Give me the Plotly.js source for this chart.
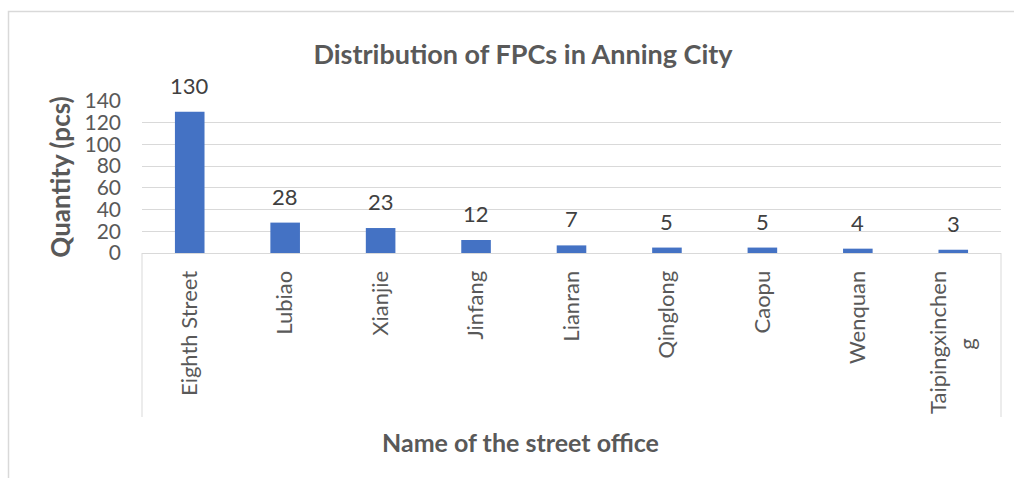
<!DOCTYPE html>
<html>
<head>
<meta charset="utf-8">
<script src="https://cdn.plot.ly/plotly-3.0.1.min.js"></script>
<style>
html,body{margin:0;padding:0;background:#fff;}
#chart{width:1014px;height:478px;}
</style>
</head>
<body>
<div id="chart"></div>
<script>
const NB = "\u00a0";
const categories = ["Eighth Street","Lubiao","Xianjie","Jinfang","Lianran","Qinglong","Caopu","Wenquan","Taipingxinchen<br>g" + NB.repeat(12)];
const counts = [130, 28, 23, 12, 7, 5, 5, 4, 3];
const yTicks = [0, 20, 40, 60, 80, 100, 120, 140];

const FONT = "Lato, 'Open Sans', sans-serif";
const GREY = "#595959";

const trace = {
  type: "bar",
  x: categories,
  y: counts,
  marker: {color: "#4472C4"},
  hoverinfo: "x+y"
};

const W = 1014, H = 478;
const L = 142, R = 13, T = 101, B = 225;
const pw = W - L - R, ph = H - T - B;
const px = x => (x - L) / pw;
const py = y => (H - B - y) / ph;

const labelAnnotations = categories.map((c, i) => ({
  x: c, y: counts[i], xref: "x", yref: "y",
  text: String(counts[i]),
  showarrow: false, xanchor: "center", yanchor: "bottom", yshift: 11,
  font: {family: FONT, size: 22, color: "#404040"}
}));

const layout = {
  width: W, height: H,
  margin: {l: L, r: R, t: T, b: B},
  paper_bgcolor: "#ffffff",
  plot_bgcolor: "#ffffff",
  showlegend: false,
  bargap: 0.69,
  font: {family: FONT, color: GREY},
  title: {
    text: "<b>Distribution of FPCs in Anning City</b>",
    font: {family: FONT, size: 27, color: GREY},
    xref: "container", x: 523 / W, xanchor: "center",
    yref: "container", y: 1 - 55 / H, yanchor: "middle"
  },
  xaxis: {
    type: "category",
    tickangle: -90,
    tickfont: {family: FONT, size: 22, color: GREY},
    showline: true, linecolor: "#D9D9D9", linewidth: 1,
    showgrid: false, ticks: "", zeroline: false,
    ticklabelstandoff: 8,
    fixedrange: true
  },
  yaxis: {
    range: [0, 140],
    tickvals: yTicks,
    ticktext: yTicks.map(String),
    tickfont: {family: FONT, size: 21, color: GREY},
    showgrid: true, gridcolor: "#D9D9D9", gridwidth: 1,
    zeroline: false, showline: false, ticks: "",
    ticklabelstandoff: 20,
    title: {text: "<b>Quantity (pcs)</b>", font: {family: FONT, size: 26, color: GREY}, standoff: 6},
    fixedrange: true
  },
  annotations: labelAnnotations.concat([
    {
      text: "<b>Name of the street office</b>",
      xref: "paper", yref: "paper",
      x: px(520), y: py(442), xanchor: "center", yanchor: "middle",
      showarrow: false,
      font: {family: FONT, size: 25, color: GREY}
    }
  ]),
  shapes: [
    {type: "line", xref: "paper", yref: "paper", x0: 0, x1: 0, y0: 0, y1: py(417), line: {color: "#D9D9D9", width: 1}},
    {type: "line", xref: "paper", yref: "paper", x0: 1, x1: 1, y0: 0, y1: py(417), line: {color: "#D9D9D9", width: 1}},
    {type: "rect", xref: "paper", yref: "paper", x0: px(8.5), x1: px(1030), y0: py(11.5), y1: py(500), line: {color: "#D9D9D9", width: 1.5}, fillcolor: "rgba(0,0,0,0)"}
  ]
};

Plotly.newPlot("chart", [trace], layout, {displayModeBar: false, staticPlot: true});
</script>
</body>
</html>
